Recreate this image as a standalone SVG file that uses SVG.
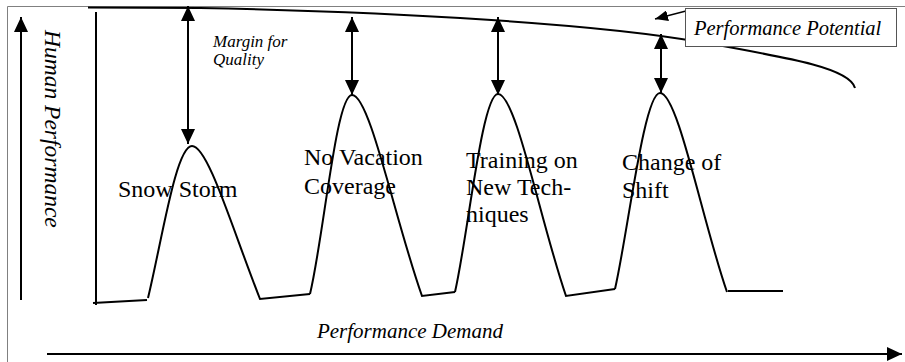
<svg xmlns="http://www.w3.org/2000/svg" width="905" height="362" viewBox="0 0 905 362">
  <style>
    .ln { fill: none; stroke: #000; stroke-width: 2; }
    .frame { fill: none; stroke: #808080; stroke-width: 1; }
    text { font-family: 'Liberation Serif', 'Times New Roman', 'DejaVu Serif', serif; fill: #000; }
    .lbl { font-size: 24px; }
    .it { font-style: italic; }
  </style>
  <defs>
    <marker id="ah" viewBox="0 0 15 14" markerWidth="15" markerHeight="14" refX="15" refY="7" orient="auto-start-reverse" markerUnits="userSpaceOnUse">
      <path d="M0,0 L15,7 L0,14 z" fill="#000"/>
    </marker>
    <marker id="ahs" viewBox="0 0 13 11" markerWidth="13" markerHeight="11" refX="13" refY="5.5" orient="auto" markerUnits="userSpaceOnUse">
      <path d="M0,0 L13,5.5 L0,11 z" fill="#000"/>
    </marker>
  </defs>

  <!-- outer frame -->
  <path class="frame" d="M7.5,362 L7.5,6.5 L905,6.5"/>

  <!-- axes -->
  <g id="axis-human-performance">
    <line class="ln" x1="21" y1="300" x2="21" y2="17" marker-end="url(#ah)"/>
    <text class="it" font-size="23.5" transform="translate(45,30) rotate(90)">Human Performance</text>
  </g>
  <g id="axis-performance-demand">
    <line class="ln" x1="47" y1="354" x2="902" y2="354" marker-end="url(#ah)"/>
    <text class="it" font-size="21" x="410" y="338" text-anchor="middle">Performance Demand</text>
  </g>

  <!-- performance potential curve and baseline frame -->
  <g id="potential">
    <line class="ln" x1="96" y1="12" x2="96" y2="305"/>
    <path class="ln" d="M88,7.5 L200,8 C400,12 600,24 700,42 C790,58 850,68 855,88"/>
  </g>

  <!-- performance demand waveform -->
  <g id="demand-curve">
    <path class="ln" d="M93,303 L147,300"/>
    <path class="ln" d="M148,298 C162,240 176,146 192,146 C208,146 232,228 260,299 L310,294"/>
    <path class="ln" d="M310,294 C324,235 336,95 352,95 C370,95 395,220 422,296 L455,292"/>
    <path class="ln" d="M455,292 C468,235 482,94 498,94 C516,94 540,220 566,296 L615,289"/>
    <path class="ln" d="M615,289 C628,232 644,93 660,93 C678,93 702,220 727,292"/>
    <path class="ln" d="M728,291 L783,291"/>
  </g>

  <!-- margin arrows -->
  <g id="connectors">
    <line class="ln" x1="188" y1="6" x2="188" y2="144" marker-start="url(#ah)" marker-end="url(#ah)"/>
    <line class="ln" x1="352" y1="17" x2="352" y2="95" marker-start="url(#ah)" marker-end="url(#ah)"/>
    <line class="ln" x1="498" y1="17" x2="498" y2="95" marker-start="url(#ah)" marker-end="url(#ah)"/>
    <line class="ln" x1="661" y1="34" x2="661" y2="93" marker-start="url(#ah)" marker-end="url(#ah)"/>
    <line x1="686" y1="11" x2="655" y2="19" stroke="#000" stroke-width="1.5" marker-end="url(#ahs)"/>
  </g>

  <g id="margin-label">
    <text class="it" font-size="17"><tspan x="213" y="47">Margin for</tspan><tspan x="213" y="65">Quality</tspan></text>
  </g>

  <g id="potential-label">
    <rect x="685.5" y="8.5" width="211" height="38" fill="#fff" stroke="#555" stroke-width="1"/>
    <text class="it" font-size="20.5" x="694" y="35">Performance Potential</text>
  </g>

  <g id="snow-storm">
    <text class="lbl" x="118" y="197">Snow Storm</text>
  </g>
  <g id="no-vacation">
    <text class="lbl"><tspan x="304" y="165">No Vacation</tspan><tspan x="304" y="194">Coverage</tspan></text>
  </g>
  <g id="training">
    <text class="lbl"><tspan x="466" y="168">Training on</tspan><tspan x="466" y="195">New Tech-</tspan><tspan x="466" y="222">niques</tspan></text>
  </g>
  <g id="change-shift">
    <text class="lbl"><tspan x="622" y="170">Change of</tspan><tspan x="622" y="198">Shift</tspan></text>
  </g>
</svg>
